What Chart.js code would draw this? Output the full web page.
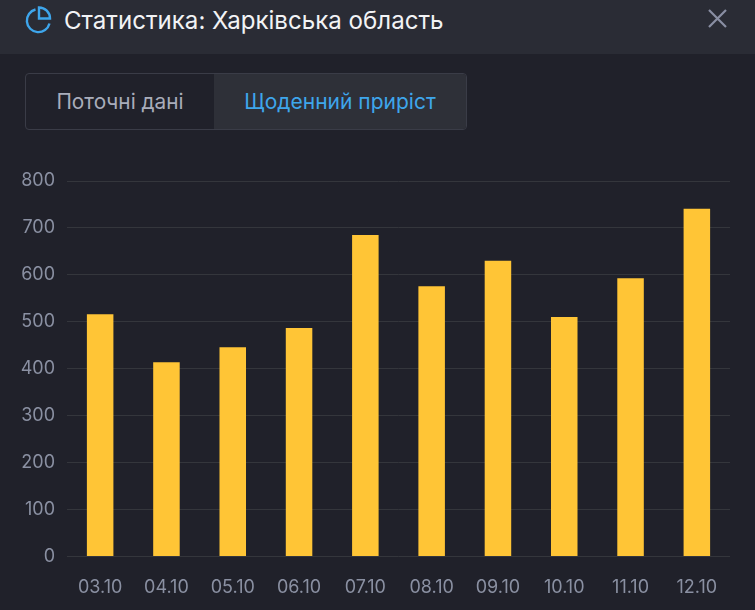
<!DOCTYPE html>
<html lang="uk">
<head>
<meta charset="utf-8">
<title>Статистика: Харківська область</title>
<script src="https://cdn.jsdelivr.net/npm/chart.js@4"></script>
<style>
    html, body { margin: 0; padding: 0; background: #20212a; overflow: hidden; }
    body { width: 755px; height: 610px; position: relative; font-family: Inter, "Noto Sans", sans-serif; }
    .header { position: absolute; left: 0; top: 0; width: 755px; height: 54px; background: #2a2c35; }
    .title { position: absolute; left: 64px; top: 6px; font-size: 24.1px; line-height: 29px; color: #f2f3f5; white-space: nowrap; }
    .icon { position: absolute; left: 25px; top: 6px; }
    .close { position: absolute; left: 707px; top: 8px; }
    .tabs { position: absolute; left: 25px; top: 73px; width: 440px; height: 55px; border: 1px solid #3a3c47; border-radius: 4px; overflow: hidden; background: #20212a; }
    .tab { position: absolute; top: 0; height: 55px; line-height: 56px; font-size: 20.8px; text-align: center; }
    .tab1 { left: 0; width: 188px; color: #a9adbb; }
    .tab2 { left: 188px; width: 252px; background: #2e3038; color: #3ea6ec; font-size: 21px; }
    #wrap { position: absolute; left: 0; top: 140px; width: 755px; height: 470px; }
</style>
</head>
<body>
<div class="header"></div>
<svg class="icon" width="28" height="28" viewBox="0 0 28 28" fill="none" stroke="#3ea6ec" stroke-width="2.4">
    <path d="M10.5 3.5 A11.5 11.5 0 1 0 24.5 17.5"/>
    <path d="M14 1.5 A11 11 0 0 1 25 12.5 L14 12.5 Z"/>
</svg>
<div class="title">Статистика: Харківська область</div>
<svg class="close" width="22" height="22" viewBox="0 0 22 22" stroke="#8a8fa3" stroke-width="2.2">
    <path d="M2 2 L19 19 M19 2 L2 19"/>
</svg>
<div class="tabs">
    <div class="tab tab1">Поточні дані</div>
    <div class="tab tab2">Щоденний приріст</div>
</div>
<div id="wrap"><canvas id="grafico" width="755" height="470"></canvas></div>
<script>
const dias = ['03.10', '04.10', '05.10', '06.10', '07.10', '08.10', '09.10', '10.10', '11.10', '12.10'];
const valores = [516, 414, 446, 487, 685, 576, 630, 510, 593, 741];
const marcasY = [0, 100, 200, 300, 400, 500, 600, 700, 800];

const ctx = document.getElementById('grafico').getContext('2d');
const tickFont = { family: 'Inter', size: 18 };

new Chart(ctx, {
    type: 'bar',
    data: {
        labels: dias,
        datasets: [{
            data: valores,
            backgroundColor: '#ffc536',
            categoryPercentage: 0.4,
            barPercentage: 1
        }]
    },
    options: {
        responsive: false,
        animation: false,
        layout: { padding: { top: 41, right: 25, left: 0, bottom: 0 } },
        plugins: { legend: { display: false }, tooltip: { enabled: false } },
        scales: {
            x: {
                grid: { display: false },
                border: { display: false },
                ticks: { color: '#8a90a2', font: tickFont, padding: 12, maxRotation: 0, autoSkip: false },
                afterFit: function(scale) { scale.height = 53.5; }
            },
            y: {
                min: 0,
                max: 800,
                afterBuildTicks: function(scale) {
                    scale.ticks = marcasY.map(function(v) { return { value: v }; });
                },
                grid: { color: '#34363c', lineWidth: 1, drawTicks: false },
                border: { display: false },
                ticks: { color: '#8a90a2', font: tickFont, padding: 12 },
                afterFit: function(scale) { scale.width = 67; }
            }
        }
    }
});
</script>
</body>
</html>
